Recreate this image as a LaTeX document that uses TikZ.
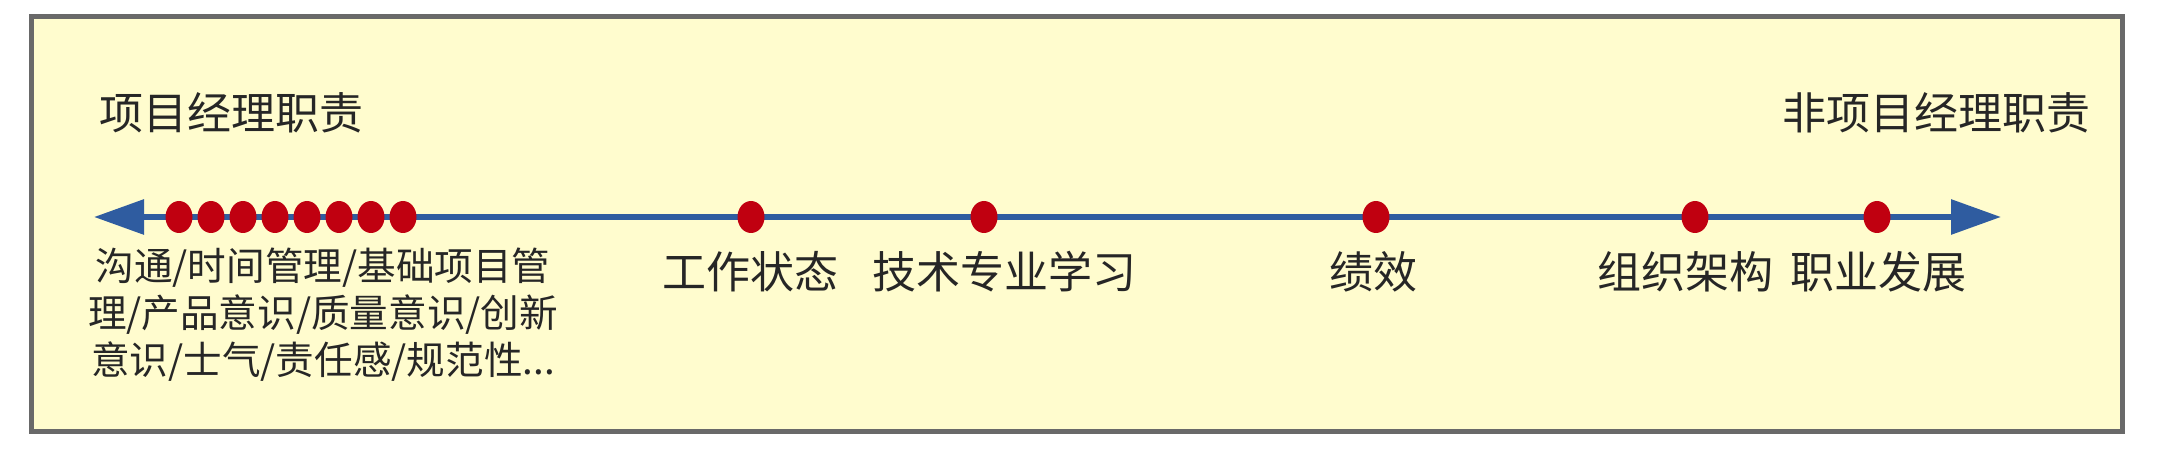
\documentclass[tikz,border=0pt]{standalone}
\usepackage{fontspec}
\setmainfont{Noto Sans CJK SC}
\usetikzlibrary{arrows.meta,shapes.geometric}
\definecolor{paper}{RGB}{255,252,206}
\definecolor{axisblue}{RGB}{47,92,160}
\definecolor{dotred}{RGB}{192,0,16}
\definecolor{framegray}{RGB}{105,105,105}
\tikzset{
  redpt/.style={ellipse, fill=dotred, minimum width=13.5pt, minimum height=16pt, inner sep=0pt},
  lbl/.style={text=black!85, font=\fontsize{22}{26}\selectfont, inner sep=0pt},
}
\begin{document}
\begin{tikzpicture}[x=.5pt, y=.5pt, >={Triangle[length=25pt, width=17pt]}]
\useasboundingbox (0,0) rectangle (2164,454);
\draw[framegray, line width=2.5pt, fill=paper] (31,22) rectangle (2122,437);

\node[lbl, anchor=west] (pm) at (99,341) {项目经理职责};
\node[lbl, anchor=east] (npm) at (2091,341) {非项目经理职责};

\coordinate (lend) at (94,237);
\coordinate (rend) at (2001,237);
\draw[<->, axisblue, line width=3pt] (lend) -- (rend);

% duties of the project manager
\node[redpt] (p1) at (179,237) {};
\node[redpt] (p2) at (211,237) {};
\node[redpt] (p3) at (243,237) {};
\node[redpt] (p4) at (275,237) {};
\node[redpt] (p5) at (307,237) {};
\node[redpt] (p6) at (339,237) {};
\node[redpt] (p7) at (371,237) {};
\node[redpt] (p8) at (403,237) {};
\node[redpt] (p9) at (751,237) {};
\node[redpt] (p10) at (984,237) {};
\node[redpt] (p11) at (1376,237) {};
\node[redpt] (p12) at (1695,237) {};
\node[redpt] (p13) at (1877,237) {};

\node[lbl, align=center, font=\fontsize{19.3}{23.5}\selectfont] (soft) at (323,139)
  {沟通/时间管理/基础项目管\\理/产品意识/质量意识/创新\\意识/士气/责任感/规范性...};
\node[lbl] (zt) at (750,182) {工作状态};
\node[lbl] (js) at (1004,182) {技术专业学习};
\node[lbl] (jx) at (1373,182) {绩效};
\node[lbl] (zz) at (1685,182) {组织架构};
\node[lbl] (zy) at (1878,182) {职业发展};
\end{tikzpicture}
\end{document}
